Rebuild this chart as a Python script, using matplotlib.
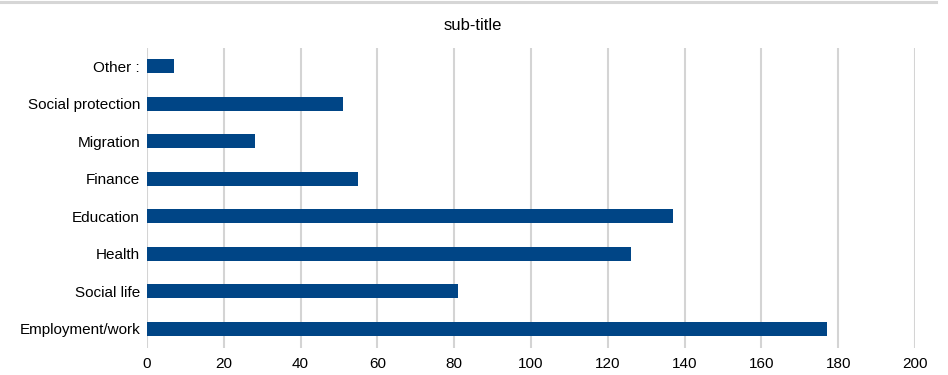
import matplotlib
matplotlib.use("Agg")
import matplotlib.pyplot as plt
from matplotlib.lines import Line2D

categories = ["Employment/work", "Social life", "Health", "Education",
              "Finance", "Migration", "Social protection", "Other :"]
values = [177, 81, 126, 137, 55, 28, 51, 7]
xticks = [0, 20, 40, 60, 80, 100, 120, 140, 160, 180, 200]
title = "sub-title"

plt.rcParams['font.family'] = ['Liberation Sans', 'DejaVu Sans']

W, H = 948, 375
fig = plt.figure(figsize=(W/100, H/100), dpi=100)
ax = fig.add_axes([147/W, 1 - 347.5/H, (915-147)/W, (347.5-47.5)/H])

ax.barh(range(len(categories)), values, height=0.38, color="#004586", zorder=3)
ax.set_ylim(-0.5, len(categories) - 0.5)
ax.set_xlim(0, 200)
ax.set_xticks(xticks)
ax.set_xticklabels([str(t) for t in xticks])
ax.set_yticks(range(len(categories)))
ax.set_yticklabels(categories)
ax.grid(axis='x', color="#d4d4d4", linewidth=1.5, zorder=0)
ax.grid(axis='y', visible=False)
for s in ax.spines.values():
    s.set_visible(False)
ax.tick_params(axis='both', length=0, labelsize=11, colors="#000000")
ax.tick_params(axis='x', pad=7)
ax.tick_params(axis='y', pad=5)

fig.text(473/W, 1 - 25/H, title, ha='center', va='center', fontsize=12)
fig.add_artist(Line2D([0, 936/W], [1 - 1.5/H, 1 - 1.5/H], color="#d6d6d6",
                      linewidth=2.2, transform=fig.transFigure))

fig.savefig("out.png", dpi=100)
